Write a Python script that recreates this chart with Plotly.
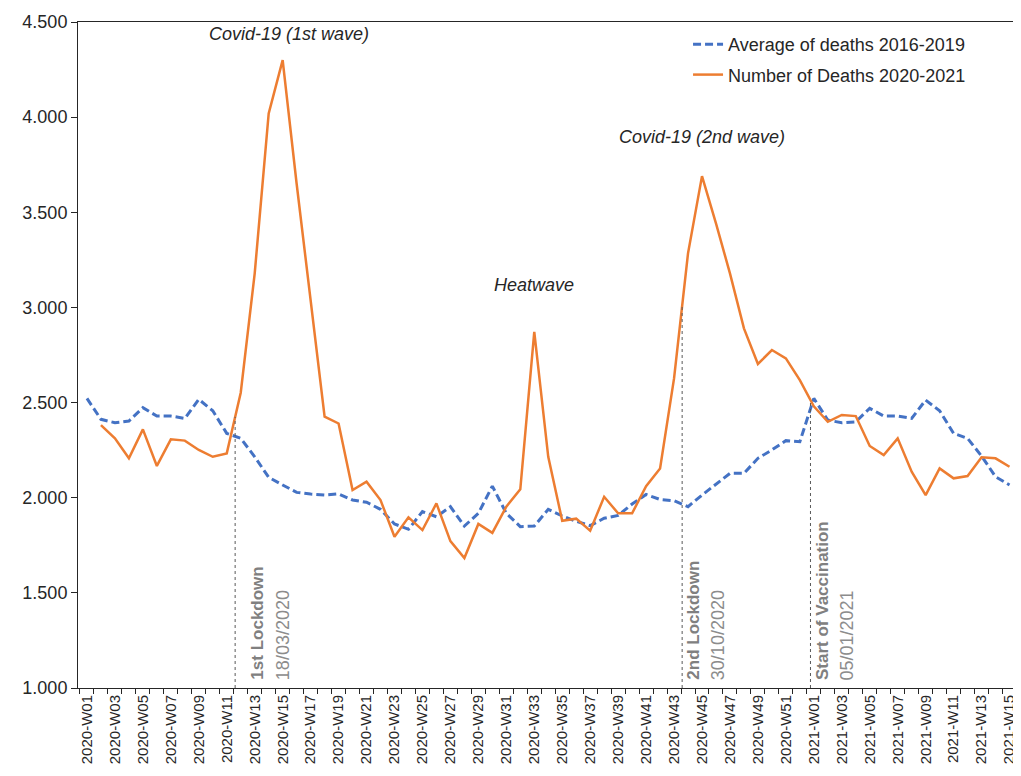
import numpy as np
import plotly.graph_objects as go

# ---- categories ----
weeks = [f"2020-W{i:02d}" for i in range(1, 53)] + [f"2021-W{i:02d}" for i in range(1, 16)]

# ---- series values ----
avg_2016_2019 = [
    2522, 2412, 2394, 2403, 2473, 2429, 2429, 2417, 2517, 2457,
    2338, 2312, 2215, 2107, 2067, 2028, 2019, 2014, 2020, 1988,
    1976, 1939, 1862, 1834, 1927, 1900, 1953, 1851, 1918, 2061,
    1918, 1848, 1851, 1939, 1904, 1876, 1853, 1892, 1907, 1967,
    2017, 1991, 1984, 1953, 2014, 2072, 2128, 2128, 2207, 2251,
    2300, 2294, 2522, 2408, 2394, 2399, 2470, 2429, 2429, 2417,
    2513, 2457, 2338, 2312, 2219, 2110, 2067,
]
deaths_2020_2021 = [
    None, 2382, 2312, 2207, 2359, 2167, 2307, 2300, 2251, 2215,
    2233, 2552, 3179, 4020, 4300, 3650, 3051, 2426, 2390, 2040,
    2084, 1988, 1795, 1897, 1830, 1970, 1772, 1683, 1862, 1815,
    1953, 2044, 2872, 2215, 1879, 1890, 1827, 2005, 1918, 1918,
    2061, 2154, 2627, 3284, 3690, 3442, 3179, 2890, 2703, 2776,
    2732, 2618, 2480, 2399, 2435, 2429, 2272, 2224, 2312, 2137,
    2014, 2154, 2102, 2114, 2212, 2207, 2163,
]

# ---- events (name, date, position on the week axis) ----
event_names = ["1st Lockdown", "2nd Lockdown", "Start of Vaccination"]
event_dates = ["18/03/2020", "30/10/2020", "05/01/2021"]
event_pos = [10.6, 42.58, 51.76]

# ---- text notes (text, week position, value) ----
note_texts = ["Covid-19 (1st wave)", "Heatwave", "Covid-19 (2nd wave)"]
note_pos = [14.48, 31.95, 44.0]
note_vals = [4437, 3118, 3895]

y_ticks = [1000, 1500, 2000, 2500, 3000, 3500, 4000, 4500]

FONT = "Liberation Sans"
x_idx = list(range(len(weeks)))

fig = go.Figure()
fig.add_trace(go.Scatter(
    x=x_idx, y=avg_2016_2019, mode="lines", name="Average of deaths 2016-2019",
    legendgroup="a",
    line=dict(color="#4472C4", width=3, dash="8px,4px"),
))
fig.add_trace(go.Scatter(
    x=x_idx, y=deaths_2020_2021, mode="lines", name="Number of Deaths 2020-2021",
    legendgroup="b",
    line=dict(color="#ED7D31", width=2.5),
))

# event lines up to the deaths curve
d_idx = [i for i, v in enumerate(deaths_2020_2021) if v is not None]
d_val = [deaths_2020_2021[i] for i in d_idx]
label_shift = [22, 11, 12]
date_shift = [48, 36, 37]
for name, date, pos, ls, ds in zip(event_names, event_dates, event_pos, label_shift, date_shift):
    top = float(np.interp(pos, d_idx, d_val))
    fig.add_shape(type="line", x0=pos, x1=pos, y0=1000, y1=top, xref="x", yref="y",
                  line=dict(color="#595959", width=1, dash="3px,3px"))
    fig.add_annotation(x=pos, y=1000, xref="x", yref="y", text=f"<b>{name}</b>",
                       textangle=-90, showarrow=False, xanchor="center", yanchor="bottom",
                       xshift=ls, yshift=6, font=dict(family=FONT, size=17, color="#808080"))
    fig.add_annotation(x=pos, y=1000, xref="x", yref="y", text=date,
                       textangle=-90, showarrow=False, xanchor="center", yanchor="bottom",
                       xshift=ds, yshift=6, font=dict(family=FONT, size=18, color="#8c8c8c"))

for t, p, v in zip(note_texts, note_pos, note_vals):
    fig.add_annotation(x=p, y=v, xref="x", yref="y", text=f"<i>{t}</i>", showarrow=False,
                       xanchor="center", yanchor="middle",
                       font=dict(family=FONT, size=18, color="#262626"))

# the page body adds an 8px offset; the figure is sized to fill the rest of the window
fig.update_layout(
    width=1013, height=768,
    margin=dict(l=70, r=1, t=14, b=88),
    paper_bgcolor="white", plot_bgcolor="white",
    separators=",.",
    font=dict(family=FONT, size=18, color="#262626"),
    showlegend=True,
    legend=dict(x=0.6476, y=0.994, xanchor="left", yanchor="top", tracegroupgap=4,
                bgcolor="rgba(0,0,0,0)", font=dict(family=FONT, size=18, color="#262626")),
    xaxis=dict(
        range=[-0.642, 66.75],
        tickmode="array", tickvals=x_idx[::2], ticktext=weeks[::2],
        tickangle=-90, tickfont=dict(family=FONT, size=15, color="#262626"),
        ticks="", showgrid=False, zeroline=False,
        showline=True, linecolor="#262626", linewidth=1, mirror=True,
        minor=dict(ticks="outside", tickmode="linear", tick0=-0.5, dtick=1,
                   ticklen=5, tickcolor="#262626", showgrid=False),
    ),
    yaxis=dict(
        range=[1000, 4500], tickvals=y_ticks, tickformat=",d",
        ticks="outside", ticklen=6, tickcolor="#262626",
        tickfont=dict(family=FONT, size=18, color="#262626"),
        showgrid=False, zeroline=False,
        showline=True, linecolor="#262626", linewidth=1, mirror=True,
    ),
)

fig.write_html("out.html")
